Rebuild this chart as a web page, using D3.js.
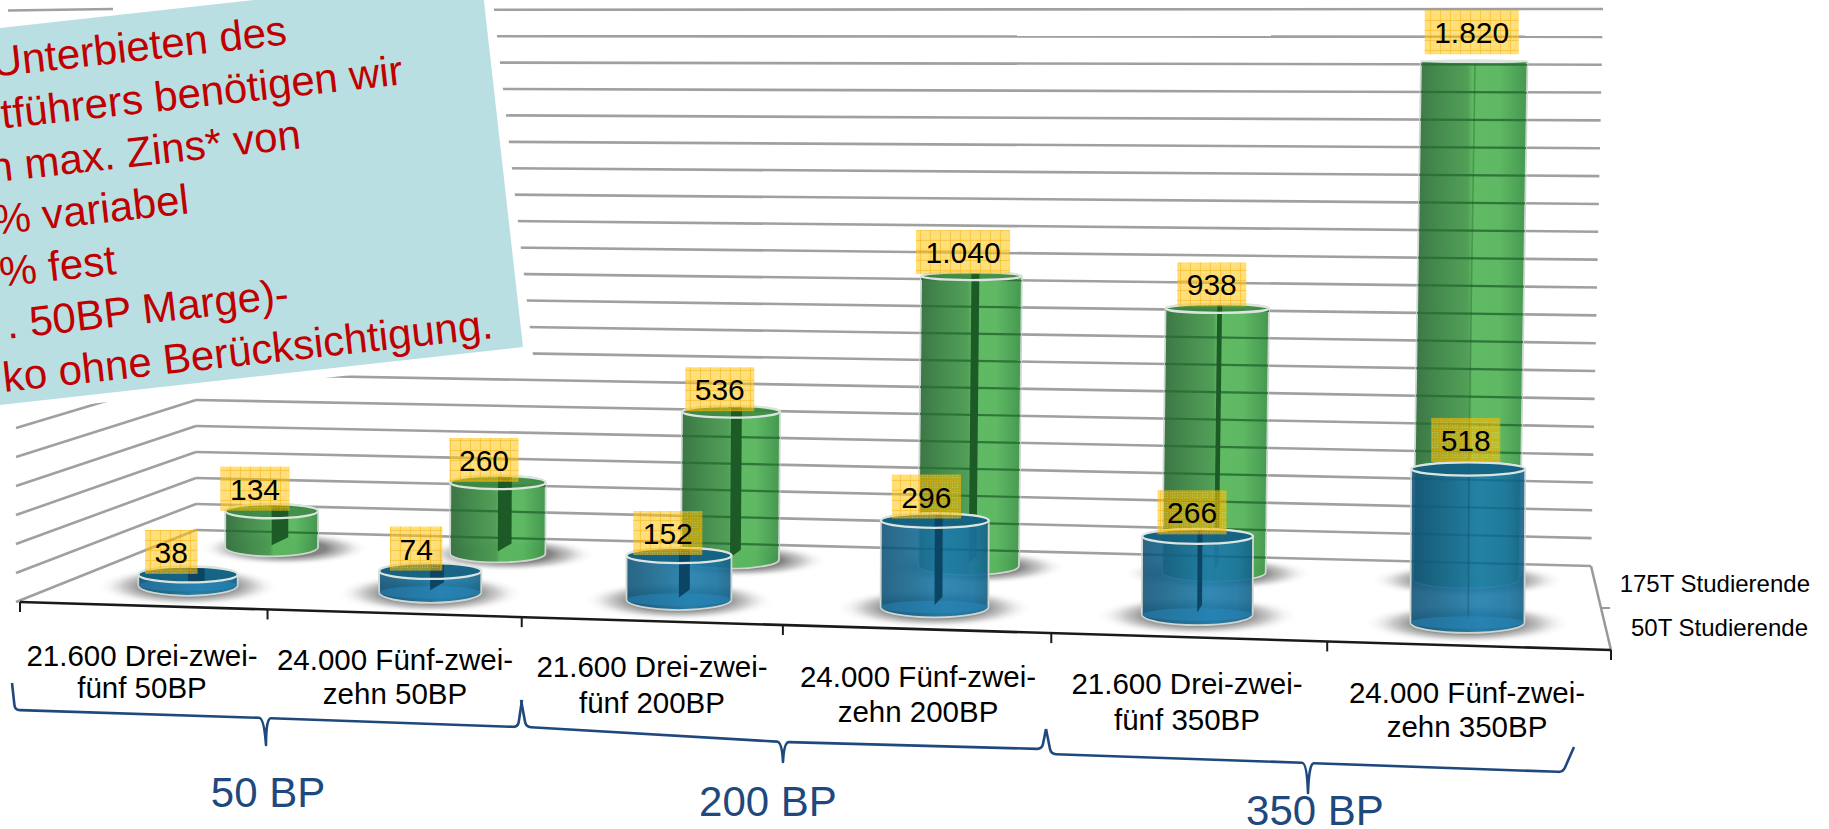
<!DOCTYPE html>
<html lang="de"><head><meta charset="utf-8">
<script src="https://cdn.jsdelivr.net/npm/d3@7/dist/d3.min.js"></script>
<style>html,body{margin:0;padding:0;background:#fff;overflow:hidden}svg{display:block}text{font-family:"Liberation Sans",Arial,sans-serif}</style>
</head><body><svg id="c" width="1829" height="829"></svg>
<script>
const categories=[["21.600 Drei-zwei-","fünf 50BP"],["24.000 Fünf-zwei-","zehn 50BP"],["21.600 Drei-zwei-","fünf 200BP"],["24.000 Fünf-zwei-","zehn 200BP"],["21.600 Drei-zwei-","fünf 350BP"],["24.000 Fünf-zwei-","zehn 350BP"]];
const students50=[38,74,152,296,266,518];
const students175=[134,260,536,1040,938,1820];
const seriesNames=["175T Studierende","50T Studierende"];
const groupLabels=["50 BP","200 BP","350 BP"];
const gridLevels=d3.range(0,2001,100);
const noteLines=["Unterbieten des","tführers benötigen wir","n max. Zins* von","% variabel","% fest",". 50BP Marge)-","ko ohne Berücksichtigung."];

const svg=d3.select("#c"),defs=svg.append("defs");
const lerp=d3.interpolateNumber;
const uScale=d3.scaleBand().domain(d3.range(categories.length)).range([0,1]);
const warp=u=>u/(1+0.0855*(1-u));
function P(u,v,val){
  const f=warp(u);
  const fx=lerp(20,1611)(f),fy=lerp(602,650)(f),bx=lerp(196,1591)(f),by=lerp(530,566)(f);
  const s=lerp(lerp(.29,.30)(f),lerp(.26,.2785)(f))(v);
  return {x:lerp(fx,bx)(v)+val/2000*12*f*v,y:lerp(fy,by)(v)-val*s,f};
}
const hk=1.012;
const fmt=d3.formatLocale({decimal:",",thousands:".",grouping:[3],currency:["","€"]}).format(",d");
const line=d3.line().x(d=>d.x).y(d=>d.y);

function grad(id,stops){const g=defs.append("linearGradient").attr("id",id);stops.forEach(([o,c])=>g.append("stop").attr("offset",o).attr("stop-color",c));}
grad("gGreen",[[0,"#35703f"],[.25,"#418a49"],[.48,"#4c9c52"],[.52,"#5ab85e"],[.75,"#5ab75f"],[1,"#3f944a"]]);
grad("gBlue",[[0,"#125478"],[.3,"#176890"],[.6,"#1d7cab"],[.85,"#19729f"],[1,"#136186"]]);
const sh=defs.append("radialGradient").attr("id","shadow");
[[0,"#555",.85],[.5,"#666",.8],[.72,"#888",.45],[.88,"#bbb",.15],[1,"#ddd",0]].forEach(([o,c,a])=>sh.append("stop").attr("offset",o).attr("stop-color",c).attr("stop-opacity",a));
const pat=defs.append("pattern").attr("id","lab").attr("width",10).attr("height",10).attr("patternUnits","userSpaceOnUse");
pat.append("rect").attr("width",10).attr("height",10).attr("fill","#ffc000").attr("fill-opacity",.55);
pat.append("path").attr("d","M0 0H10M0 0V10").attr("stroke","#eeaa00").attr("stroke-width",1).attr("stroke-opacity",.75);
[2.5,5,7.5].forEach(a=>[2.5,5,7.5].forEach(b=>pat.append("circle").attr("cx",a).attr("cy",b).attr("r",.6).attr("fill","#fff").attr("fill-opacity",.35)));

const g=svg.append("g");
const gridStroke="#a0a0a0";
gridLevels.forEach(l=>{
  const a=P(0,1,l),b=P(1,1,l);
  g.append("path").attr("d",line([a,b])).attr("fill","none").attr("stroke",gridStroke).attr("stroke-width",2.6);
  const fl=P(0,0,l);
  g.append("path").attr("d",line([{x:fl.x-4,y:fl.y},a])).attr("fill","none").attr("stroke",gridStroke).attr("stroke-width",2.6);
});
const dA=P(1,1,0),dB=P(1,0,0);
g.append("path").attr("d",line([dA,dB])).attr("stroke","#999").attr("stroke-width",2.5);
const dM=P(1,.5,0);
g.append("path").attr("d",`M${dM.x},${dM.y}h9`).attr("stroke","#999").attr("stroke-width",2);
g.append("path").attr("d",line([P(0,0,0),P(1,0,0)])).attr("stroke","#1a1a1a").attr("stroke-width",2.6);
d3.range(categories.length+1).forEach(i=>{
  const p=P(i/categories.length,0,0);
  g.append("path").attr("d",`M${p.x},${p.y}v10`).attr("stroke","#1a1a1a").attr("stroke-width",2);
});

const rows=[{vals:students175,v:.8,fill:"gGreen",cap:"#3f8a47",slit:"#1c5a26",band:"#2a6f35",op:.97,base:"green"},
            {vals:students50,v:.28,fill:"gBlue",cap:"#14607f",slit:"#0b4563",band:"#0c5878",op:.9,base:"blue"}];
const u=i=>uScale(i)+uScale.bandwidth()/2;
rows.forEach(r=>r.vals.forEach((val,i)=>{
  const p=P(u(i),r.v,0),q0=P(uScale(i),r.v,0),q1=P(uScale(i)+uScale.bandwidth(),r.v,0),rx=.208*(q1.x-q0.x);
  g.append("ellipse").attr("cx",p.x+(r.v>.5?14:0)*(1-p.f)).attr("cy",p.y+1).attr("rx",rx*1.8).attr("ry",r.v>.5?17:20).attr("fill","url(#shadow)");
}));
rows.forEach((r,ri)=>r.vals.forEach((val,i)=>{
  const b=P(u(i),r.v,0),t=P(u(i),r.v,val*hk);
  const q0=P(uScale(i),r.v,0),q1=P(uScale(i)+uScale.bandwidth(),r.v,0),rx=.208*(q1.x-q0.x);
  const ryB=r.v>.5?9:10.5,ryT=Math.max(.6,8*Math.pow(Math.max(0,(t.y-60)/520),.8));
  const body=`M${b.x-rx},${b.y}A${rx},${ryB} 0 0 0 ${b.x+rx},${b.y}L${t.x+rx},${t.y}A${rx},${ryT} 0 0 0 ${t.x-rx},${t.y}Z`;
  const G=g.append("g");
  const cid=`clip${ri}${i}`;
  defs.append("clipPath").attr("id",cid).append("path").attr("d",body);
  G.append("path").attr("d",body).attr("fill",`url(#${r.fill})`).attr("fill-opacity",r.op).attr("stroke","#cfd6d2").attr("stroke-width",1.8);
  const cg=G.append("g").attr("clip-path",`url(#${cid})`);
  gridLevels.forEach(l=>cg.append("path").attr("d",line([P(0,1,l),P(1,1,l)])).attr("stroke",r.band).attr("stroke-width",2.2).attr("stroke-opacity",r.base==="green"?.9:.3).attr("fill","none"));
  if(r.base==="blue"){
    cg.append("ellipse").attr("cx",b.x).attr("cy",b.y).attr("rx",rx).attr("ry",ryB*.6).attr("fill","#2a8cc0").attr("fill-opacity",.45);
  }
  const w=Math.max(1,18*(1-b.f));
  const sTop=t.y-ryT*.9,sB=Math.max(b.y-2,sTop+4),sR=Math.max(b.y-10,sTop+3);
  const slitOp=b.f>.85?.35:1;
  cg.append("path").attr("d",`M${t.x},${sTop}L${t.x+w},${sTop}L${b.x+w},${sR}L${b.x},${sB}Z`).attr("fill",r.slit).attr("fill-opacity",slitOp);
  G.append("ellipse").attr("cx",t.x).attr("cy",t.y).attr("rx",rx).attr("ry",ryT).attr("fill",r.cap).attr("fill-opacity",.85);
  if(w>2)G.append("path").attr("d",`M${t.x},${t.y-ryT}h${w}v${ryT*2-1}h${-w}Z`).attr("fill",r.slit);
  G.append("ellipse").attr("cx",t.x).attr("cy",t.y).attr("rx",rx).attr("ry",ryT).attr("fill","none").attr("stroke","#dbe4df").attr("stroke-width",2.3);
}));

rows.forEach(r=>r.vals.forEach((val,i)=>{
  const t=P(u(i),r.v,val*hk);
  const ox=-17*(1-t.f)-1;
  const lift=t.f>.85?5:(t.f<.4?-1.5:0);
  const L=g.append("g");
  const rect=L.append("rect").attr("fill","url(#lab)");
  const tx=L.append("text").attr("x",t.x+ox).attr("y",t.y-13-lift).attr("text-anchor","middle").attr("font-size",30).attr("fill","#000").text(fmt(val));
  const w=tx.node().getComputedTextLength()+19;
  rect.attr("x",t.x+ox-w/2).attr("y",t.y-46-lift).attr("width",w).attr("height",44);
}));

const catX=[142,395,652,918,1187,1467],catY=[666,670,677,687,694,703],catDy=[32,34,36,35,36,34];
categories.forEach((c,i)=>{
  const T=g.append("text").attr("text-anchor","middle").attr("font-size",29.5).attr("fill","#000");
  c.forEach((s,j)=>T.append("tspan").attr("x",catX[i]).attr("y",catY[i]+j*catDy[i]).text(s));
});
[[1810,592],[1808,636]].forEach(([x,y],i)=>g.append("text").attr("x",x).attr("y",y).attr("text-anchor","end").attr("font-size",24).attr("fill","#000").text(seriesNames[i]));

const blue="#1f497d";
const braces=[[[12,683],[15,710],[265,718],[266,745],[518,727],[522,700]],
              [[521,700],[526,727],[783,742],[783,762],[1042,749],[1046,729]],
              [[1046,729],[1051,754],[1308,763],[1308,793],[1563,772],[1574,747]]];
function bracePath([a,b,m,t,c,d]){
  const along=(p,q,n)=>{const L=Math.hypot(q[0]-p[0],q[1]-p[1]);return [p[0]+(q[0]-p[0])*n/L,p[1]+(q[1]-p[1])*n/L];};
  const p=d3.path();
  const b0=along(b,a,5),b1=along(b,m,5),c0=along(c,m,5),c1=along(c,d,5);
  const m0=along(m,b,6),m1=along(m,c,6);
  p.moveTo(...a);p.lineTo(...b0);p.quadraticCurveTo(b[0],b[1],...b1);p.lineTo(...m0);
  p.quadraticCurveTo(m[0]-1,m[1],...t);p.quadraticCurveTo(m[0]+1,m[1],...m1);
  p.lineTo(...c0);p.quadraticCurveTo(c[0],c[1],...c1);p.lineTo(...d);
  return p.toString();
}
braces.forEach(b=>g.append("path").attr("d",bracePath(b)).attr("fill","none").attr("stroke",blue).attr("stroke-width",2.6).attr("stroke-linejoin","round"));
[[268,807],[768,816],[1315,825]].forEach(([x,y],i)=>g.append("text").attr("x",x).attr("y",y).attr("text-anchor","middle").attr("font-size",42).attr("fill",blue).text(groupLabels[i]));

const poly=[[-10,29],[481,-25],[523,347],[-10,406]];
g.append("path").attr("d",d3.line()(poly)+"Z").attr("fill","#fff").attr("stroke","#fff").attr("stroke-width",18);
g.append("path").attr("d",d3.line()(poly)+"Z").attr("fill","#b9dfe2");
const topY=P(0,1,2000).y;
g.append("path").attr("d",line([{x:8,y:topY+.5},{x:113,y:topY-1}])).attr("stroke",gridStroke).attr("stroke-width",2.6);
const ends=[288,404,302,190,117,290,494];
noteLines.forEach((s,i)=>{
  const x=ends[i],y=76+52.7*i-.11*x;
  g.append("text").attr("x",x).attr("y",y).attr("text-anchor","end").attr("font-size",42).attr("fill","#c00000").attr("transform",`rotate(-6.3 ${x} ${y})`).text(s);
});
</script></body></html>
